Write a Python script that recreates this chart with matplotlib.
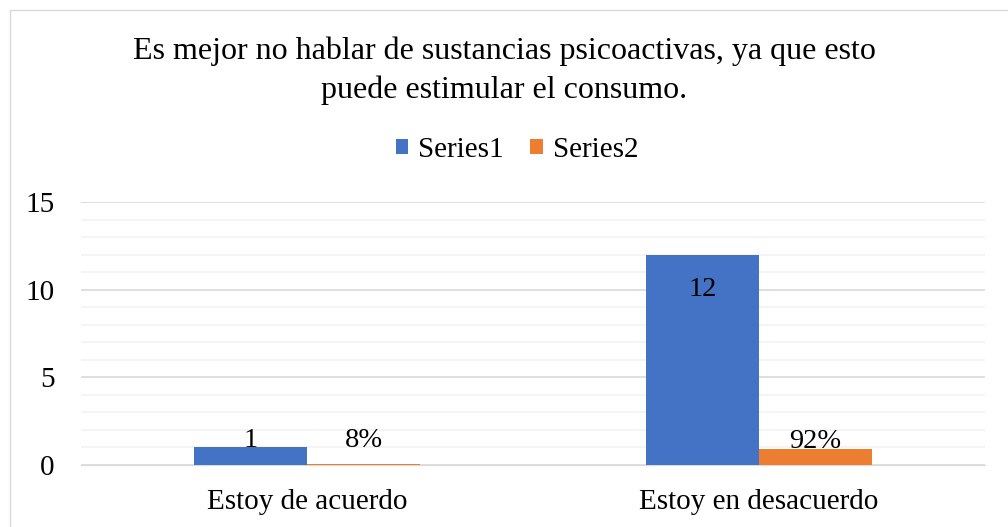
import numpy as np
import matplotlib.pyplot as plt
from matplotlib.patches import Rectangle

# datos
categorias = ['Estoy de acuerdo', 'Estoy en desacuerdo']
series1 = [1, 12]
series2 = [0.08, 0.92]
etiquetas1 = ['1', '12']
etiquetas2 = ['8%', '92%']
titulo = 'Es mejor no hablar de sustancias psicoactivas, ya que esto\npuede estimular el consumo.'

plt.rcParams['font.family'] = ['Liberation Serif', 'DejaVu Serif']

fig = plt.figure(figsize=(10.08, 5.27), dpi=100)
# borde del grafico
fig.patches.append(Rectangle((10 / 1008, -0.05), 1.05, 1 - 10 / 527 + 0.05,
                             transform=fig.transFigure, fill=False,
                             edgecolor='#d9d9d9', linewidth=1))

ax = fig.add_axes([81 / 1008, 1 - 465 / 527, (985 - 81) / 1008, (465 - 202) / 527])

x = np.arange(len(categorias))
ancho = 0.25
b1 = ax.bar(x - ancho / 2, series1, ancho, color='#4472c4', label='Series1', zorder=3)
b2 = ax.bar(x + ancho / 2, series2, ancho, color='#ed7d31', label='Series2', zorder=3)

ax.set_xlim(-0.5, 1.5)
ax.set_ylim(0, 15)
ax.set_yticks([0, 5, 10, 15])
ax.set_yticks(np.arange(0, 16, 1), minor=True)
ax.grid(axis='y', which='major', color='#d9d9d9', linewidth=1.2, zorder=0)
ax.grid(axis='y', which='minor', color='#f2f2f2', linewidth=1.2, zorder=0)
ax.set_xticks(x)
ax.set_xticklabels(categorias, fontsize=21)
ax.tick_params(axis='y', labelsize=21, length=0, pad=19, which='both')
ax.tick_params(axis='x', length=0, pad=17)
for s in ['top', 'right', 'left']:
    ax.spines[s].set_visible(False)
ax.spines['bottom'].set_color('#d9d9d9')

# etiquetas de datos
fs = 20.5
ax.text(x[0] - ancho / 2, series1[0] + 0.02, etiquetas1[0], ha='center', va='baseline', fontsize=fs, zorder=4)
ax.text(x[1] - ancho / 2, series1[1] - 1.25, etiquetas1[1], ha='center', va='top', fontsize=fs, zorder=4)
ax.text(x[0] + ancho / 2, series2[0] + 0.94, etiquetas2[0], ha='center', va='baseline', fontsize=fs, zorder=4)
ax.text(x[1] + ancho / 2, series2[1] + 0.07, etiquetas2[1], ha='center', va='baseline', fontsize=fs, zorder=4)

fig.text(0.5, 1 - 71 / 527, titulo, ha='center', va='center', fontsize=23, linespacing=1.4)
fig.legend(loc='center', bbox_to_anchor=(0.513, 1 - 150 / 527), ncol=2, frameon=False,
           fontsize=21, handlelength=0.42, handleheight=0.42, handletextpad=0.35, columnspacing=0.9)

fig.savefig('out.png', dpi=100)
